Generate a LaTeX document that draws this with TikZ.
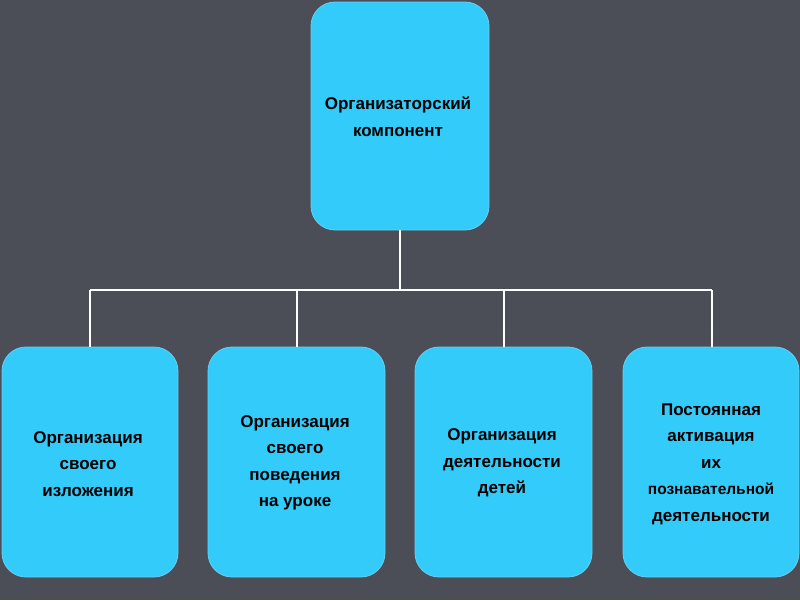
\documentclass[tikz,border=0pt]{standalone}
\usepackage{fontspec}
\setmainfont{Liberation Sans}
\begin{document}
\begin{tikzpicture}[x=1pt,y=-1pt,
  box/.style={draw=cyan!60!white,line width=0.8pt,fill=boxc,rounded corners=24pt,inner sep=0pt},
  lbl/.style={font=\fontsize{17}{26.5}\selectfont\bfseries,align=center,text=black},
  wire/.style={draw=white,line width=1.5pt}]
\definecolor{bg}{HTML}{4B4E56}
\definecolor{boxc}{HTML}{33CCFA}
\fill[bg] (0,0) rectangle (800,600);
\useasboundingbox (0,0) rectangle (800,600);
\draw[box] (311,2) rectangle (489,230);
\node[lbl] (top) at (398,117) {Организаторский\\компонент};
\coordinate (tb) at (400,230);
\coordinate (j) at (400,290);
\foreach \n/\a/\b/\c in {1/2/178/90,2/208/385/297,3/415/592/504,4/623/799/712}{
  \draw[box] (\a,347) rectangle (\b,577);
  \coordinate (h\n) at (\c,290);
  \coordinate (t\n) at (\c,347);
  \draw[wire] (h\n) -- (t\n);
}
\draw[wire] (tb) -- (j);
\draw[wire] (h1) -- (h4);
\node[lbl] (b1) at (88,464) {Организация\\своего\\ изложения};
\node[lbl] (b2) at (295,463) {Организация\\своего\\поведения\\на уроке};
\node[lbl] (b3) at (502,463) {Организация\\деятельности\\детей};
\node[lbl] (b4) at (711,464) {Постоянная\\активация\\их\\{\fontsize{15.5}{26}\selectfont познавательной}\\деятельности};
\end{tikzpicture}
\end{document}
